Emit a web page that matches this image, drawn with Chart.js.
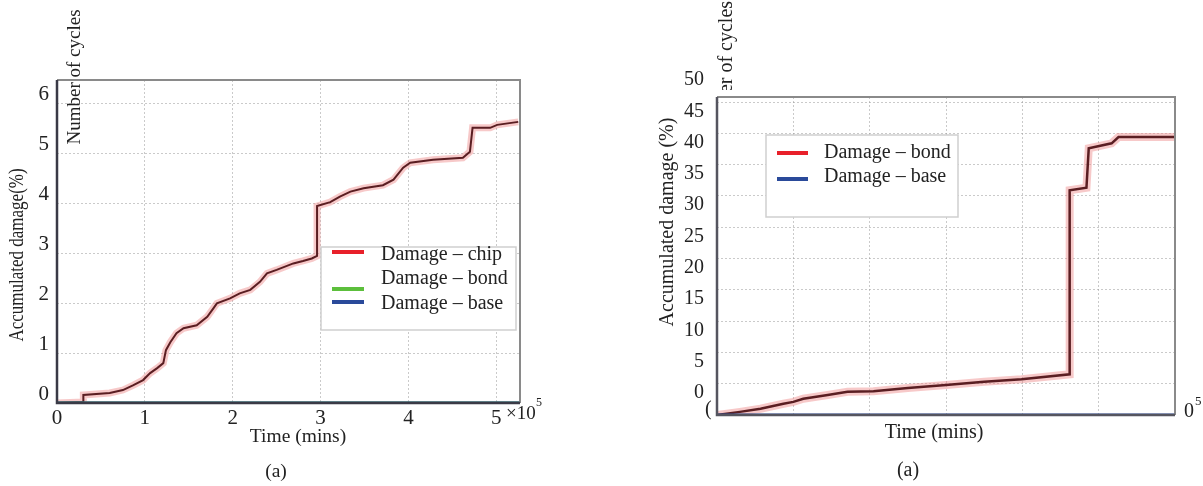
<!DOCTYPE html>
<html><head><meta charset="utf-8">
<script src="https://cdn.jsdelivr.net/npm/chart.js@4.4.0/dist/chart.umd.min.js"></script>
<style>
html,body{margin:0;padding:0;background:#fff;}
#wrap{position:relative;width:1203px;height:486px;overflow:hidden;}
#c1{position:absolute;left:0;top:0;}
#c2{position:absolute;left:600px;top:0;}
</style></head><body>
<div id="wrap">
<canvas id="c1" width="600" height="486"></canvas>
<canvas id="c2" width="603" height="486"></canvas>
</div>
<script>
// ---------- Left panel data (time in 1e5 mins, damage in %) ----------
const leftTime = [0, 0.30, 0.30, 0.60, 0.75, 0.87, 0.98, 1.06, 1.14, 1.21, 1.24, 1.29, 1.36, 1.44, 1.59, 1.71, 1.78, 1.82, 1.97, 2.08, 2.20, 2.31, 2.39, 2.50, 2.69, 2.80, 2.90, 2.96, 2.96, 3.11, 3.22, 3.34, 3.49, 3.71, 3.83, 3.94, 4.02, 4.28, 4.62, 4.70, 4.73, 4.93, 5.01, 5.25];
const leftChip = [0, 0.02, 0.16, 0.20, 0.26, 0.36, 0.46, 0.60, 0.70, 0.80, 1.06, 1.22, 1.40, 1.50, 1.56, 1.73, 1.90, 2.00, 2.10, 2.20, 2.27, 2.43, 2.60, 2.67, 2.80, 2.85, 2.90, 2.95, 3.95, 4.03, 4.14, 4.24, 4.31, 4.37, 4.48, 4.72, 4.82, 4.88, 4.92, 5.04, 5.52, 5.52, 5.58, 5.64];
const leftFlatTime = [0, 5.27];
const leftBond = [0, 0];
const leftBase = [0, 0];
const leftYTicks = [0, 1, 2, 3, 4, 5, 6];
const leftXTicks = [0, 1, 2, 3, 4, 5];
const leftLegend = ["Damage \u2013 chip", "Damage \u2013 bond", "Damage \u2013 base"];

// ---------- Right panel data ----------
const rightTime = [0, 0.30, 0.57, 0.87, 1.00, 1.13, 1.45, 1.71, 2.05, 2.50, 3.00, 3.50, 3.99, 4.62, 4.62, 4.84, 4.87, 5.17, 5.26, 6.00];
const rightBond = [0, 0.5, 1.0, 1.8, 2.1, 2.6, 3.2, 3.7, 3.8, 4.3, 4.8, 5.3, 5.7, 6.5, 35.9, 36.3, 42.6, 43.4, 44.4, 44.4];
const rightFlatTime = [0, 6];
const rightBase = [0, 0];
const rightYTicks = [0, 5, 10, 15, 20, 25, 30, 35, 40, 45, 50];
const rightXTicks = [0, 1, 2, 3, 4, 5, 6];
const rightLegend = ["Damage \u2013 bond", "Damage \u2013 base"];

const SERIF = "'Liberation Serif', 'DejaVu Serif', serif";
const TXT = '#222';
const C_RED = '#e8202a', C_GREEN = '#5cbf3c', C_BLUE = '#2a4a9a';
const CORE = '#5a1e22', HALO = 'rgba(238,135,135,0.45)';

function pts(xs, ys) { return xs.map((x, i) => ({x: x, y: ys[i]})); }

function text(ctx, s, x, y, size, opt) {
  opt = opt || {};
  ctx.save();
  ctx.font = size + 'px ' + SERIF;
  ctx.fillStyle = TXT;
  ctx.textAlign = opt.align || 'center';
  ctx.textBaseline = 'middle';
  ctx.translate(x, y);
  if (opt.rot) ctx.rotate(opt.rot);
  if (opt.sy) ctx.scale(1, opt.sy);
  ctx.fillText(s, 0, 0);
  ctx.restore();
}

const deco = {
  id: 'deco',
  beforeDraw(chart, args, o) {
    const ctx = chart.ctx;
    ctx.save();
    ctx.fillStyle = '#fff';
    ctx.fillRect(0, 0, chart.width, chart.height);
    ctx.restore();
  },
  afterDraw(chart, args, o) {
    const ctx = chart.ctx, a = chart.chartArea;
    // frame
    ctx.save();
    ctx.lineWidth = 2;
    ctx.strokeStyle = '#8a8a8a';
    ctx.beginPath();
    ctx.moveTo(a.left, a.top); ctx.lineTo(a.right, a.top); ctx.lineTo(a.right, a.bottom);
    ctx.stroke();
    ctx.strokeStyle = o.axisColor;
    ctx.lineWidth = 2.5;
    ctx.beginPath();
    ctx.moveTo(a.left, a.top); ctx.lineTo(a.left, a.bottom); ctx.lineTo(a.right, a.bottom);
    ctx.stroke();
    ctx.restore();
    // titles
    text(ctx, o.yTitle, o.yTitleX, o.yTitleY, o.yTitleSize, {rot: -Math.PI / 2, sy: o.yTitleStretch});
    text(ctx, 'Time (mins)', o.xTitleX, o.xTitleY, o.xTitleSize);
    text(ctx, '(a)', o.capX, o.capY, o.xTitleSize);
    // "Number of cycles"
    ctx.save();
    if (o.clipCycles) { ctx.beginPath(); ctx.rect(0, 0, chart.width, o.clipCycles); ctx.clip(); }
    text(ctx, 'Number of cycles', o.cycX, o.cycY, o.cycSize, {rot: -Math.PI / 2});
    ctx.restore();
    // extra fragments
    (o.extras || []).forEach(e => text(ctx, e.s, e.x, e.y, e.size, {align: e.align || 'left'}));
    // legend
    const L = o.legend;
    ctx.save();
    ctx.fillStyle = '#fff';
    ctx.fillRect(L.x, L.y, L.w, L.h);
    ctx.strokeStyle = '#cfcfcf';
    ctx.lineWidth = 1.5;
    ctx.strokeRect(L.x, L.y, L.w, L.h);
    L.items.forEach(it => {
      ctx.strokeStyle = it.color;
      ctx.lineWidth = 4;
      ctx.beginPath();
      ctx.moveTo(L.sx0, it.ly); ctx.lineTo(L.sx1, it.ly);
      ctx.stroke();
      text(ctx, it.label, L.tx, it.ty, L.size, {align: 'left'});
    });
    ctx.restore();
  }
};

function gridOpts() {
  return {color: 'rgba(150,150,150,0.5)', lineWidth: 1, drawTicks: false};
}

// ---------- Left chart ----------
new Chart(document.getElementById('c1'), {
  type: 'line',
  data: {
    datasets: [
      {label: leftLegend[2], data: pts(leftFlatTime, leftBase), borderColor: C_BLUE, borderWidth: 3, pointRadius: 0, order: 0},
      {label: leftLegend[1], data: pts(leftFlatTime, leftBond), borderColor: C_GREEN, borderWidth: 3, pointRadius: 0, order: 1},
      {label: leftLegend[0], data: pts(leftTime, leftChip), borderColor: CORE, borderWidth: 2, pointRadius: 0, order: 2},
      {label: 'halo', data: pts(leftTime, leftChip), borderColor: HALO, borderWidth: 7, pointRadius: 0, order: 3}
    ]
  },
  options: {
    responsive: false, animation: false,
    layout: {padding: {left: 0, top: 80, right: 80, bottom: 0}},
    plugins: {
      legend: {display: false}, tooltip: {enabled: false},
      deco: {
        axisColor: '#3a3a46',
        yTitle: 'Accumulated damage(%)', yTitleX: 18, yTitleY: 255, yTitleSize: 17, yTitleStretch: 1.18,
        xTitleX: 298, xTitleY: 437, xTitleSize: 19.5, capX: 276, capY: 472,
        cycX: 75, cycY: 77, cycSize: 19, clipCycles: 0,
        extras: [{s: '\u00d710', x: 506, y: 414, size: 19}, {s: '5', x: 536, y: 403, size: 12}],
        legend: {x: 321, y: 247, w: 195, h: 83, sx0: 332, sx1: 364, tx: 381, size: 20,
          items: [
            {label: leftLegend[0], color: C_RED, ly: 252, ty: 255},
            {label: leftLegend[1], color: C_GREEN, ly: 289, ty: 279},
            {label: leftLegend[2], color: C_BLUE, ly: 302, ty: 304}
          ]}
      }
    },
    scales: {
      x: {
        type: 'linear', min: 0, max: 5.27,
        afterBuildTicks: s => { s.ticks = leftXTicks.map(v => ({value: v})); },
        afterFit: s => { s.height = 83; },
        grid: gridOpts(), border: {display: false, dash: [2, 2]},
        ticks: {padding: 3, color: TXT, font: {family: SERIF, size: 21}, maxRotation: 0, callback: v => String(v)}
      },
      y: {
        type: 'linear', min: 0, max: 6.48,
        afterBuildTicks: s => { s.ticks = leftYTicks.map(v => ({value: v})); },
        afterFit: s => { s.width = 57; },
        grid: gridOpts(), border: {display: false, dash: [2, 2]},
        ticks: {padding: 8, labelOffset: -9, color: TXT, font: {family: SERIF, size: 21}, callback: v => String(v)}
      }
    }
  },
  plugins: [deco]
});

// ---------- Right chart ----------
new Chart(document.getElementById('c2'), {
  type: 'line',
  data: {
    datasets: [
      {label: rightLegend[1], data: pts(rightFlatTime, rightBase), borderColor: C_BLUE, borderWidth: 3, pointRadius: 0, order: 0},
      {label: rightLegend[0], data: pts(rightTime, rightBond), borderColor: CORE, borderWidth: 2.5, pointRadius: 0, order: 1},
      {label: 'halo', data: pts(rightTime, rightBond), borderColor: HALO, borderWidth: 8, pointRadius: 0, order: 2}
    ]
  },
  options: {
    responsive: false, animation: false,
    layout: {padding: {left: 0, top: 97, right: 28, bottom: 0}},
    plugins: {
      legend: {display: false}, tooltip: {enabled: false},
      deco: {
        axisColor: '#55555f',
        yTitle: 'Accumulated damage (%)', yTitleX: 68, yTitleY: 222, yTitleSize: 20, yTitleStretch: 1,
        xTitleX: 334, xTitleY: 433, xTitleSize: 20, capX: 308, capY: 471,
        cycX: 127, cycY: 72, cycSize: 20, clipCycles: 90,
        extras: [{s: '(', x: 105, y: 410, size: 20}, {s: '0', x: 584, y: 412, size: 20}, {s: '5', x: 595, y: 402, size: 13}],
        legend: {x: 166, y: 135, w: 192, h: 82, sx0: 177, sx1: 208, tx: 224, size: 20,
          items: [
            {label: rightLegend[0], color: C_RED, ly: 153, ty: 153},
            {label: rightLegend[1], color: C_BLUE, ly: 179, ty: 177}
          ]}
      }
    },
    scales: {
      x: {
        type: 'linear', min: 0, max: 6,
        afterBuildTicks: s => { s.ticks = rightXTicks.map(v => ({value: v})); },
        afterFit: s => { s.height = 71; },
        grid: gridOpts(), border: {display: false, dash: [2, 2]},
        ticks: {display: false}
      },
      y: {
        type: 'linear', min: 0, max: 50.8,
        afterBuildTicks: s => { s.ticks = rightYTicks.map(v => ({value: v})); },
        afterFit: s => { s.width = 117; },
        grid: gridOpts(), border: {display: false, dash: [2, 2]},
        ticks: {padding: 13, labelOffset: -22, color: TXT, font: {family: SERIF, size: 20}, callback: v => String(v)}
      }
    }
  },
  plugins: [deco]
});
</script>
</body></html>
